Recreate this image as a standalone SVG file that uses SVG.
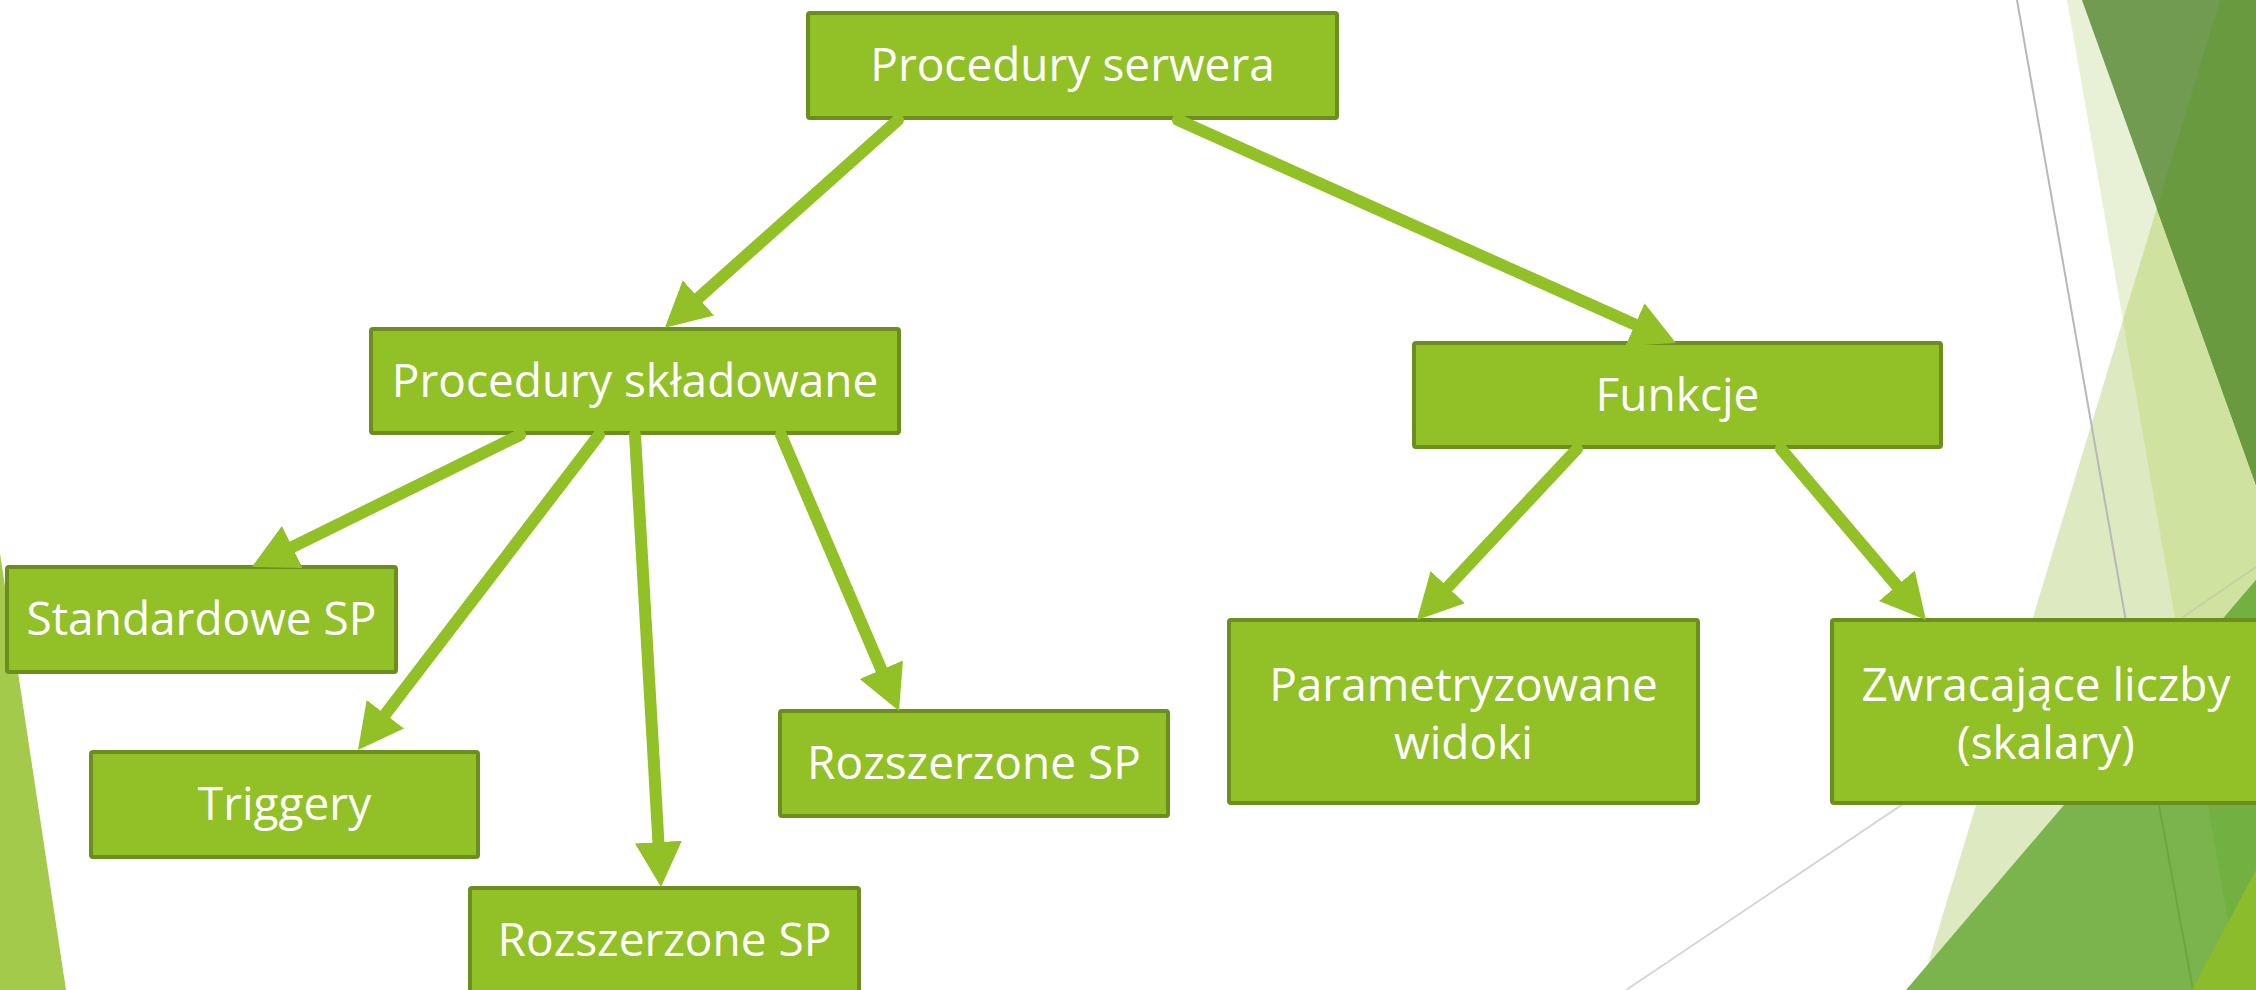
<svg xmlns="http://www.w3.org/2000/svg" width="2256" height="990" viewBox="0 0 2256 990">
  <style>
    .box { fill: #92c127; stroke: #6b8e1f; stroke-width: 4; }
    .label { fill: #ffffff; font-family: "Open Sans", "Noto Sans", "Liberation Sans", sans-serif; font-size: 46px; text-anchor: middle; }
    .conn { fill: none; stroke: #92c127; stroke-width: 12; stroke-linecap: round; marker-end: url(#head); }
  </style>
  <defs>
    <marker id="head" markerUnits="userSpaceOnUse" markerWidth="60" markerHeight="60" viewBox="0 -30 60 60" refX="3" refY="0" orient="auto">
      <path d="M0,-23.5 L45,0 L0,23.5 Z" fill="#92c127"/>
    </marker>
    <clipPath id="clipPale">
      <polygon points="2067,0 2256,0 2256,990 2240,990"/>
    </clipPath>
    <clipPath id="clipMid">
      <polygon points="2220,0 2256,0 2256,990 1920,990"/>
    </clipPath>
  </defs>

  <rect width="2256" height="990" fill="#ffffff"/>

  <!-- side facets -->
  <g id="facets">
    <polygon points="-2,540 66,990 -2,990" fill="#a3ca4b"/>
    <line x1="1626" y1="990" x2="2256" y2="567" stroke="#d6d6d6" stroke-width="2"/>
    <polygon points="2067,0 2256,0 2256,990 2240,990" fill="#e8f1d5"/>
    <polygon points="2220,0 2256,0 2256,990 1920,990" fill="#dde9c1"/>
    <polygon points="2220,0 2256,0 2256,990 1920,990" fill="#d0e2a0" clip-path="url(#clipPale)"/>
    <line x1="2017" y1="0" x2="2142" y2="713" stroke="#b8b8b8" stroke-width="2"/>
    <line x1="2183" y1="617" x2="2256" y2="567" stroke="#c3d2a2" stroke-width="2"/>
    <polygon points="2082,0 2256,0 2256,485" fill="#709b50"/>
    <polygon points="2082,0 2256,0 2256,485" fill="#6a9a3f" clip-path="url(#clipMid)"/>
    <polygon points="1906,990 2256,580 2256,990" fill="#7bb44c"/>
    <polygon points="1906,990 2256,580 2256,990" fill="#73b042" clip-path="url(#clipPale)"/>
    <line x1="2142" y1="713" x2="2193" y2="990" stroke="#6ba63f" stroke-width="2"/>
    <polygon points="2192,990 2256,870 2256,990" fill="#8bbc2c"/>
  </g>

  <!-- nodes -->
  <g id="node-procedury-serwera">
    <rect class="box" x="808" y="13" width="529" height="105" rx="2"/>
    <text class="label" x="1072.5" y="81">Procedury serwera</text>
  </g>
  <g id="node-procedury-skladowane">
    <rect class="box" x="371" y="329" width="528" height="104" rx="2"/>
    <text class="label" x="635" y="397">Procedury składowane</text>
  </g>
  <g id="node-funkcje">
    <rect class="box" x="1414" y="343" width="527" height="104" rx="2"/>
    <text class="label" x="1677.5" y="411">Funkcje</text>
  </g>
  <g id="node-standardowe-sp">
    <rect class="box" x="7" y="567" width="389" height="105" rx="2"/>
    <text class="label" x="201.5" y="635">Standardowe SP</text>
  </g>
  <g id="node-triggery">
    <rect class="box" x="91" y="752" width="387" height="105" rx="2"/>
    <text class="label" x="284.5" y="820">Triggery</text>
  </g>
  <g id="node-rozszerzone-sp-1">
    <rect class="box" x="780" y="711" width="388" height="105" rx="2"/>
    <text class="label" x="974" y="779">Rozszerzone SP</text>
  </g>
  <g id="node-rozszerzone-sp-2">
    <rect class="box" x="470" y="888" width="389" height="105" rx="2"/>
    <text class="label" x="664.5" y="956">Rozszerzone SP</text>
  </g>
  <g id="node-parametryzowane-widoki">
    <rect class="box" x="1229" y="620" width="469" height="183" rx="2"/>
    <text class="label" x="1463.5" y="701">Parametryzowane</text>
    <text class="label" x="1463.5" y="759">widoki</text>
  </g>
  <g id="node-zwracajace-liczby">
    <rect class="box" x="1832" y="620" width="469" height="183" rx="2"/>
    <text class="label" x="2046" y="701">Zwracające liczby</text>
    <text class="label" x="2046" y="759">(skalary)</text>
  </g>

  <!-- connectors -->
  <g id="connectors">
    <line class="conn" x1="898" y1="120" x2="696.2" y2="299.9"/>
    <line class="conn" x1="1178" y1="120" x2="1637.7" y2="325.8"/>
    <line class="conn" x1="520" y1="435" x2="289.6" y2="548.3"/>
    <line class="conn" x1="599" y1="435" x2="383.5" y2="716.6"/>
    <line class="conn" x1="635" y1="435" x2="658.6" y2="845.1"/>
    <line class="conn" x1="781" y1="435" x2="882.5" y2="672.4"/>
    <line class="conn" x1="1577" y1="449" x2="1445.7" y2="589.3"/>
    <line class="conn" x1="1781" y1="449" x2="1898.8" y2="588"/>
  </g>
</svg>
